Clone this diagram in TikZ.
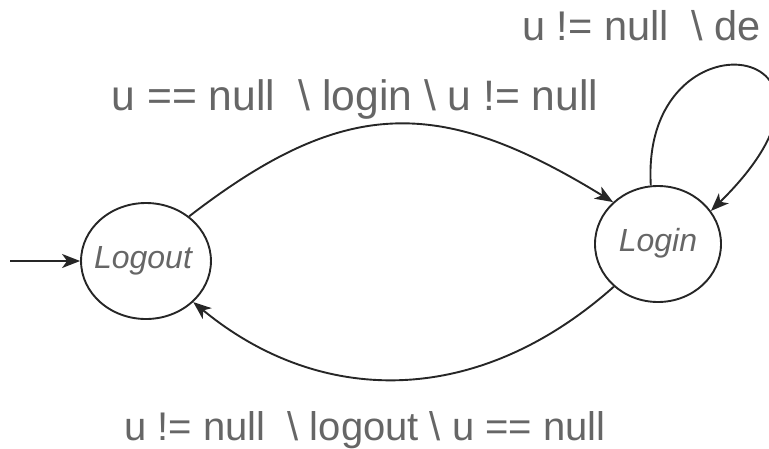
\documentclass[tikz,border=0pt]{standalone}
\usepackage{fontspec}
\setmainfont{Liberation Sans}
\usetikzlibrary{arrows.meta,shapes.geometric}
\definecolor{txtgray}{HTML}{666666}
\begin{document}
\begin{tikzpicture}[x=1pt,y=-1pt,
  state/.style={draw=black!85,line width=1.9pt,ellipse,inner sep=0pt,
    minimum width=126pt,minimum height=116pt,text=txtgray,
    font=\fontsize{32}{36}\selectfont\itshape},
  lbl/.style={text=txtgray,inner sep=0pt},
  edge/.style={draw=black!85,line width=1.9pt,
    -{Stealth[length=18pt,width=14pt,inset=5pt]}}]
\useasboundingbox (0,0) rectangle (769,448);
\clip (0,0) rectangle (769,448);
\node[state] (logout) at (146,261) {\hspace*{-6pt}\raisebox{8pt}{Logout}};
\node[state] (login) at (658,244) {\raisebox{8pt}{Login}};
\coordinate (start) at (10,261);
\draw[edge] (start) -- (logout);
\draw[edge] (logout.46) .. controls (345,96) and (440,96) .. (login.137);
\draw[edge] (login.224) .. controls (475,410) and (318,405) .. (logout.319);
\draw[edge] (login.97) .. controls (640,5) and (885,40) .. (login.32);
\node[lbl,anchor=base,font=\fontsize{42.6}{48}\selectfont] (l1) at (355,110) {u == null\ \ \textbackslash\ login \textbackslash\ u != null};
\node[lbl,anchor=base,font=\fontsize{40}{48}\selectfont] (l2) at (365,440) {u != null\ \ \textbackslash\ logout \textbackslash\ u == null};
\node[lbl,anchor=base west,font=\fontsize{41.5}{48}\selectfont] (l3) at (522,40) {u != null\ \ \textbackslash\ de};
\end{tikzpicture}
\end{document}
